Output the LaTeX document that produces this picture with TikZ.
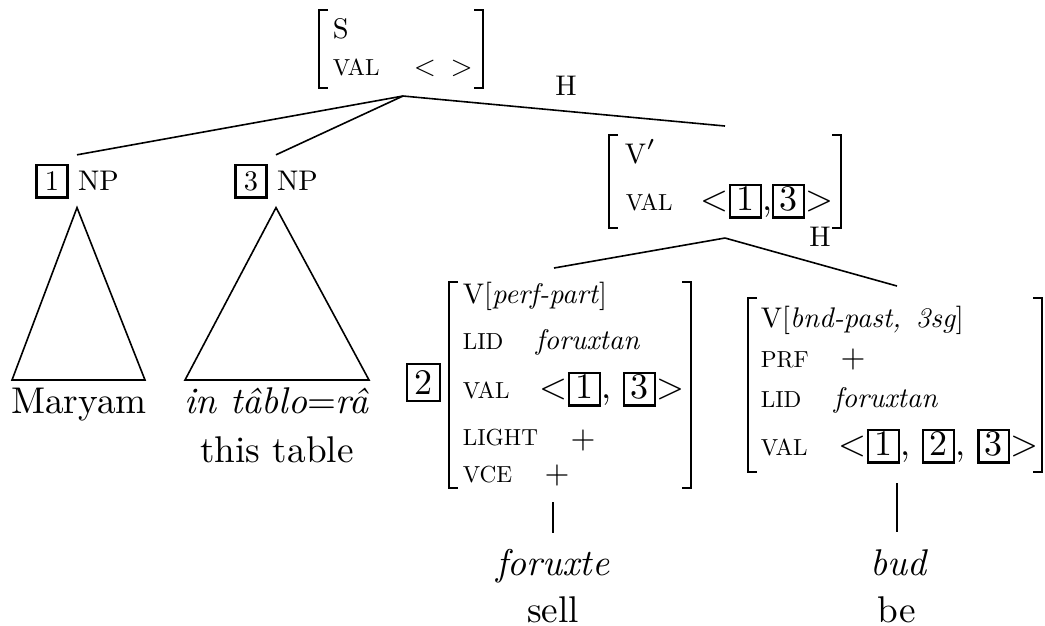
\documentclass[tikz,border=0pt]{standalone}
\usepackage{fontspec}
\setmainfont{lmroman10-regular.otf}[ItalicFont=lmroman10-italic.otf,BoldFont=lmroman10-bold.otf]
\newcommand\fsmall{\fontsize{7.1}{8.5}\selectfont}
\newcommand\fsc{\fontsize{5.8}{7}\selectfont}
\newcommand\fmid{\fontsize{9}{10.8}\selectfont}
\newcommand\fplus{\fontsize{8}{9.6}\selectfont}
\newcommand\fbig{\fontsize{9.3}{11.2}\selectfont}
\newcommand\bx[2][\fmid]{{\setlength\fboxsep{0pt}\setlength\fboxrule{0.6pt}\fbox{\makebox[7.1pt]{\rule[-1.6pt]{0pt}{7.6pt}#1#2}}}}
\newcommand\avmbrackets[4]{%
  \draw[brk] ({#1+9},#3) -- (#1,#3) -- (#1,#4) -- ({#1+9},#4);
  \draw[brk] ({#2-9},#3) -- (#2,#3) -- (#2,#4) -- ({#2-9},#4);}
\begin{document}
\begin{tikzpicture}[x=0.25pt,y=-0.25pt,
  row/.style={inner sep=0pt,anchor=base west,font=\fsmall},
  feat/.style={inner sep=0pt,anchor=base west,font=\fsc},
  leaf/.style={inner sep=0pt,anchor=base,font=\fbig},
  pl/.style={inner sep=0pt,anchor=center,font=\fplus},
  lab/.style={inner sep=0pt,anchor=base,font=\fsmall},
  brk/.style={line width=0.5pt},
  br/.style={line width=0.4pt}]
\useasboundingbox (0,0) rectangle (1045,625);

% S
\node[row] (S-cat) at (332,38) {S};
\node[feat] (S-val) at (332,75) {VAL};
\node[row] (S-valv) at (413,75) {<\hspace{3.65pt}>};
\avmbrackets{319}{483}{10}{88}
\coordinate (S-bot) at (403,96);
\node[lab] (H1) at (566,95) {H};

% NPs
\node[font=\fsmall,inner xsep=0pt,inner ysep=2pt,anchor=base] (np1) at (77,190) {\bx[\fsmall]{1} NP};
\node[font=\fsmall,inner xsep=0pt,inner ysep=2pt,anchor=base] (np3) at (276,190) {\bx[\fsmall]{3} NP};
\draw[br] (np1.south) -- (12,380) -- (145,380) -- cycle;
\draw[br] (np3.south) -- (185,380) -- (369,380) -- cycle;
\node[leaf] (maryam) at (79,413) {Maryam};
\node[leaf] (intablo) at (277,413) {\textit{in tâblo}=\textit{râ}};
\node[leaf] (thistable) at (277,462) {this table};

% V'
\node[row] (Vb-cat) at (624,163) {V$'$};
\node[feat] (Vb-val) at (625,210) {VAL};
\node[row,font=\fmid] (Vb-valv) at (700,210) {<\bx{1},\bx{3}>};
\avmbrackets{609}{841}{135}{228}
\node[lab] (H2) at (820,246) {H};
\coordinate (Vb-top) at (725,126);
\coordinate (Vb-bot) at (725,238);

% left daughter
\node[draw,line width=0.6pt,minimum width=8.25pt,minimum height=9.25pt,inner sep=0pt,font=\fmid] (t2) at (423.5,382.5) {2};
\avmbrackets{449}{691}{282}{488}
\node[row] (L-cat) at (462,303) {V[\textit{perf-part}]};
\node[feat] (L-lid) at (462,349) {LID};
\node[row] (L-lidv) at (535,349) {\textit{foruxtan}};
\node[feat] (L-val) at (462,398) {VAL};
\node[row,font=\fmid] (L-valv) at (539,398) {<\bx{1}, \bx{3}>};
\node[feat] (L-light) at (462,445) {LIGHT};
\node[pl] (L-lightv) at (583,440) {+};
\node[feat] (L-vce) at (462,482) {VCE};
\node[pl] (L-vcev) at (557,475) {+};
\coordinate (L-top) at (554,268);
\coordinate (L-bot) at (553,502);
\coordinate (L-leaf) at (553,533);
\node[leaf] (foruxte) at (553,575) {\textit{foruxte}};
\node[leaf] (sell) at (553,622) {sell};

% right daughter
\avmbrackets{748}{1042}{298}{472}
\node[row] (R-cat) at (760,327) {V[\textit{bnd-past, \,3sg}]};
\node[feat] (R-prf) at (760,367) {PRF};
\node[pl] (R-prfv) at (853,359) {+};
\node[feat] (R-lid) at (760,407) {LID};
\node[row] (R-lidv) at (833,407) {\textit{foruxtan}};
\node[feat] (R-val) at (760,455) {VAL};
\node[row,font=\fmid] (R-valv) at (838,455) {<\bx{1}, \bx{2}, \bx{3}>};
\coordinate (R-top) at (897,286);
\coordinate (R-bot) at (897,483);
\coordinate (R-leaf) at (897,532);
\node[leaf] (bud) at (899,575) {\textit{bud}};
\node[leaf] (be) at (897,622) {be};

% branches
\draw[br] (S-bot) -- (np1.north);
\draw[br] (S-bot) -- (np3.north);
\draw[br] (S-bot) -- (Vb-top);
\draw[br] (Vb-bot) -- (L-top);
\draw[br] (Vb-bot) -- (R-top);
\draw[br] (L-bot) -- (L-leaf);
\draw[br] (R-bot) -- (R-leaf);
\end{tikzpicture}
\end{document}
